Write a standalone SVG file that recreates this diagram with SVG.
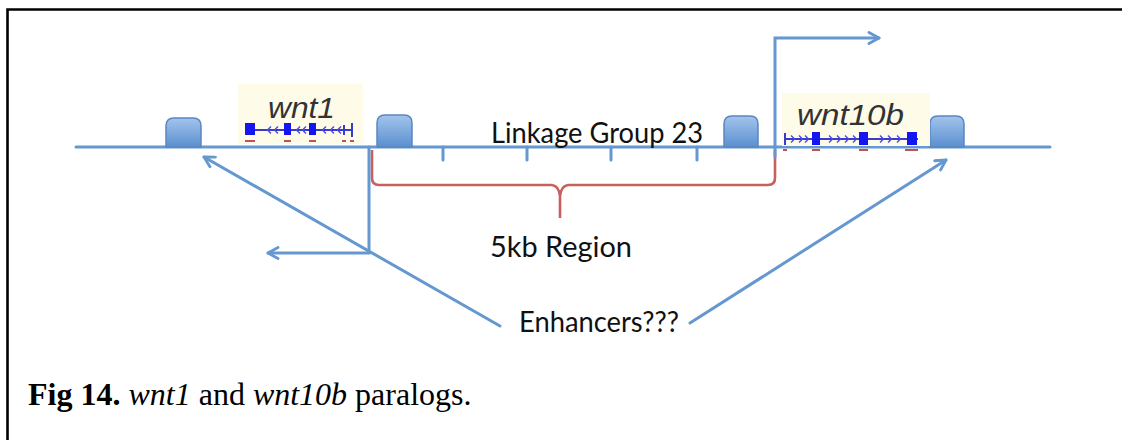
<svg xmlns="http://www.w3.org/2000/svg" width="1122" height="440" viewBox="0 0 1122 440">
<style>
.blue{stroke:#6597d0;stroke-width:3;fill:none;stroke-linecap:round}
.lbl{font-family:Lato,"Open Sans",sans-serif;font-size:29px;fill:#111}
.gene{font-family:"Liberation Sans",Arial,sans-serif;font-style:italic;font-size:30px;fill:#333}
.box{fill:url(#bg);stroke:#5a87c0;stroke-width:1.5}
.trk{stroke:#3a3ad0;stroke-width:2;fill:none}
.chev{stroke:#4a4ae0;stroke-width:1.4;fill:none}
.exon{fill:#1515f0}
.red{fill:#c0505a}
.cap{font-family:"Liberation Serif","Times New Roman",serif;font-size:32px;fill:#000}
</style>
<defs>
<linearGradient id="bg" x1="0" y1="0" x2="0" y2="1">
<stop offset="0" stop-color="#a3c4ec"/>
<stop offset="1" stop-color="#5b8fcf"/>
</linearGradient>
<marker id="arr" viewBox="0 0 14 14" refX="12" refY="7" markerWidth="14" markerHeight="14" markerUnits="userSpaceOnUse" orient="auto">
<path d="M2,1.5 L12,7 L2,12.5" fill="none" stroke="#6597d0" stroke-width="2.8" stroke-linecap="round" stroke-linejoin="round"/>
</marker>
</defs>
<rect x="0" y="0" width="1122" height="440" fill="#fff"/>
<g id="frame">
<path d="M7.5,440 V9.5 H1122" fill="none" stroke="#000" stroke-width="2.6"/>
</g>
<g id="chromosome">
<line class="blue" x1="76" y1="147" x2="1050" y2="147"/>
<line class="blue" x1="443" y1="147" x2="443" y2="160"/>
<line class="blue" x1="527" y1="147" x2="527" y2="160"/>
<line class="blue" x1="611" y1="147" x2="611" y2="160"/>
<line class="blue" x1="697" y1="147" x2="697" y2="160"/>
<text class="lbl" x="491" y="143" textLength="212" lengthAdjust="spacingAndGlyphs">Linkage Group 23</text>
</g>
<g id="enhancer1"><path class="box" d="M166,147 V126 Q166,118 174,118 H193 Q201,118 201,126 V147 Z"/></g>
<g id="enhancer2"><path class="box" d="M377,147 V123 Q377,115 385,115 H404 Q412,115 412,123 V147 Z"/></g>
<g id="enhancer3"><path class="box" d="M724,147 V124 Q724,116 732,116 H750 Q758,116 758,124 V147 Z"/></g>
<g id="enhancer4"><path class="box" d="M930,147 V124 Q930,116 938,116 H956 Q964,116 964,124 V147 Z"/></g>
<g id="wnt1">
<rect x="238" y="84" width="125" height="60" fill="#fefce8"/>
<text class="gene" x="268" y="118" textLength="67" lengthAdjust="spacingAndGlyphs">wnt1</text>
<line class="trk" x1="245" y1="130" x2="353" y2="130"/>
<rect class="exon" x="245" y="123" width="10" height="12"/>
<rect class="exon" x="284" y="123" width="7" height="12"/>
<rect class="exon" x="309" y="123" width="7" height="12"/>
<line class="trk" x1="352" y1="123" x2="352" y2="137"/>
<line class="trk" x1="344" y1="125" x2="344" y2="135"/>
<path class="chev" d="M271,126.5 l-3.5,3.5 l3.5,3.5 M278,126.5 l-3.5,3.5 l3.5,3.5 M300,126.5 l-3.5,3.5 l3.5,3.5 M306,126.5 l-3.5,3.5 l3.5,3.5 M326,126.5 l-3.5,3.5 l3.5,3.5 M334,126.5 l-3.5,3.5 l3.5,3.5 M341,126.5 l-3.5,3.5 l3.5,3.5"/>
<rect class="red" x="245" y="140" width="10" height="2"/>
<rect class="red" x="284" y="140" width="7" height="2"/>
<rect class="red" x="309" y="140" width="7" height="2"/>
<rect class="red" x="342" y="140" width="4" height="2"/>
<rect class="red" x="350" y="140" width="4" height="2"/>
</g>
<g id="wnt10b">
<rect x="782" y="93" width="148" height="53" fill="#fefce8"/>
<text class="gene" x="797" y="125" textLength="107" lengthAdjust="spacingAndGlyphs">wnt10b</text>
<line class="trk" x1="785" y1="139" x2="918" y2="139"/>
<line class="trk" x1="785" y1="133" x2="785" y2="145"/>
<rect class="exon" x="812" y="132" width="8" height="13"/>
<rect class="exon" x="859" y="132" width="9" height="13"/>
<rect class="exon" x="907" y="132" width="10" height="13"/>
<path class="chev" d="M791,135.5 l3.5,3.5 l-3.5,3.5 M799,135.5 l3.5,3.5 l-3.5,3.5 M805,135.5 l3.5,3.5 l-3.5,3.5 M829,135.5 l3.5,3.5 l-3.5,3.5 M837,135.5 l3.5,3.5 l-3.5,3.5 M845,135.5 l3.5,3.5 l-3.5,3.5 M853,135.5 l3.5,3.5 l-3.5,3.5 M880,135.5 l3.5,3.5 l-3.5,3.5 M888,135.5 l3.5,3.5 l-3.5,3.5 M897,135.5 l3.5,3.5 l-3.5,3.5"/>
<rect class="red" x="783" y="149" width="4" height="2"/>
<rect class="red" x="812" y="149" width="8" height="2"/>
<rect class="red" x="859" y="149" width="9" height="2"/>
<rect class="red" x="905" y="149" width="13" height="2"/>
</g>
<g id="region">
<path d="M372,150 V178 Q372,185 379,185 H552 Q559,186 560,196 V218 M560,196 Q561,186 568,185 H768 Q775,185 775,178 V150" fill="none" stroke="#c8605c" stroke-width="2.6"/>
<text class="lbl" x="490" y="257" textLength="142" lengthAdjust="spacingAndGlyphs">5kb Region</text>
</g>
<g id="enhancers">
<text class="lbl" x="519" y="332" textLength="160" lengthAdjust="spacingAndGlyphs">Enhancers???</text>
</g>
<g id="connectors">
<path class="blue" d="M369,147 V253 H268" marker-end="url(#arr)"/>
<path class="blue" d="M775,157 V38 H879" marker-end="url(#arr)"/>
<line class="blue" x1="500" y1="326" x2="204" y2="157" marker-end="url(#arr)"/>
<line class="blue" x1="690" y1="323" x2="946" y2="160" marker-end="url(#arr)"/>
</g>
<g id="caption">
<text class="cap" x="28" y="405"><tspan font-weight="bold">Fig 14.</tspan> <tspan font-style="italic">wnt1</tspan> and <tspan font-style="italic">wnt10b</tspan> paralogs.</text>
</g>
</svg>
